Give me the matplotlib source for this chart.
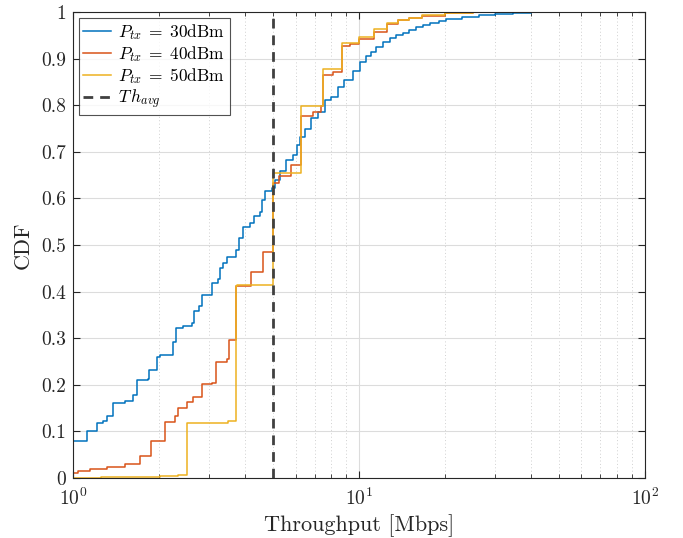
"""
CDF of throughput for three transmit powers
"""
import matplotlib
matplotlib.use("Agg")
import matplotlib.pyplot as plt
import numpy as np

plt.rcParams["font.family"] = "serif"
plt.rcParams["font.serif"] = ["cmr10", "DejaVu Serif"]
plt.rcParams["mathtext.fontset"] = "cm"
plt.rcParams["axes.formatter.use_mathtext"] = True

# step points (throughput in Mbps, CDF value after the step)
x_30 = [1, 1.117, 1.216, 1.276, 1.31, 1.383, 1.52, 1.62, 1.68, 1.83, 1.85, 1.97, 2.01,
        2.24, 2.29, 2.43, 2.6, 2.64, 2.76, 2.82, 3.05, 3.22, 3.26, 3.35, 3.45, 3.73,
        3.81, 3.94, 4.16, 4.31, 4.5, 4.59, 4.69, 4.95, 5.08, 5.3, 5.58, 5.89, 6.06,
        6.22, 6.47, 6.82, 7.19, 7.59, 8.0, 8.44, 8.9, 9.5, 10.06, 10.6, 11.0, 11.5,
        12.1, 12.8, 13.5, 14.3, 15.0, 15.9, 16.8, 17.7, 19.0, 20.2, 23.0, 26.4, 30.0,
        34.6, 40.0, 100]
cdf_30 = [0.08, 0.1, 0.119, 0.123, 0.134, 0.16, 0.166, 0.178, 0.21, 0.213, 0.232, 0.259,
          0.265, 0.292, 0.322, 0.327, 0.333, 0.359, 0.369, 0.393, 0.418, 0.426, 0.45,
          0.462, 0.475, 0.489, 0.514, 0.539, 0.547, 0.562, 0.571, 0.597, 0.616, 0.622,
          0.64, 0.658, 0.682, 0.693, 0.715, 0.732, 0.75, 0.772, 0.786, 0.811, 0.818,
          0.84, 0.854, 0.874, 0.893, 0.905, 0.914, 0.925, 0.936, 0.945, 0.951, 0.956,
          0.962, 0.968, 0.973, 0.977, 0.981, 0.985, 0.99, 0.993, 0.996, 0.998, 1.0, 1.0]

x_40 = [1, 1.04, 1.147, 1.31, 1.52, 1.71, 1.87, 2.1, 2.27, 2.33, 2.5, 2.62, 2.82, 3.05,
        3.16, 3.45, 3.5, 3.73, 4.18, 4.61, 5.0, 5.25, 5.8, 6.25, 6.92, 7.39, 7.47, 8.12,
        8.72, 9.3, 10.0, 11.3, 12.5, 13.7, 15.0, 16.6, 20.0, 25.0, 100]
cdf_40 = [0.011, 0.016, 0.02, 0.023, 0.031, 0.048, 0.08, 0.121, 0.132, 0.15, 0.164, 0.174,
          0.201, 0.204, 0.25, 0.255, 0.296, 0.412, 0.443, 0.486, 0.632, 0.648, 0.672,
          0.776, 0.786, 0.798, 0.865, 0.872, 0.926, 0.932, 0.943, 0.958, 0.974, 0.982,
          0.987, 0.992, 0.997, 1.0, 1.0]

x_50 = [1, 1.25, 2.01, 2.33, 2.5, 3.49, 3.73, 3.76, 5.0, 6.25, 7.47, 8.72, 10.0, 11.3,
        12.5, 13.7, 15.0, 16.6, 20.0, 25.0, 100]
cdf_50 = [0.0, 0.002, 0.004, 0.007, 0.119, 0.122, 0.412, 0.414, 0.655, 0.798, 0.877,
          0.933, 0.947, 0.963, 0.976, 0.983, 0.988, 0.993, 0.997, 1.0, 1.0]

th_avg = 5.0

labels = [r"$P_{tx}\;=\;30\mathrm{dBm}$", r"$P_{tx}\;=\;40\mathrm{dBm}$",
          r"$P_{tx}\;=\;50\mathrm{dBm}$", r"$T\,h_{avg}$"]
colors = ["#0072BD", "#D95319", "#EDB120"]

fig = plt.figure(figsize=(6.83, 5.38), dpi=100)
ax = fig.add_axes([0.107, 0.1115, 0.837, 0.8662])

for xs, ys, c, lab in zip([x_30, x_40, x_50], [cdf_30, cdf_40, cdf_50], colors, labels):
    ax.step(xs, ys, where="post", color=c, lw=1.1, label=lab)

ax.axvline(th_avg, color="#404040", lw=2, linestyle=(0, (3.5, 2.5)), label=labels[3])

ax.set_xscale("log")
ax.set_xlim(1, 100)
ax.set_ylim(0, 1)
ax.set_yticks(np.arange(0, 1.01, 0.1))
ax.set_yticklabels(["0"] + ["%.1f" % v for v in np.arange(0.1, 0.95, 0.1)] + ["1"])

ax.grid(True, which="major", color="#dcdcdc", lw=0.8)
ax.grid(True, which="minor", axis="x", color="#d0d0d0", lw=0.7, linestyle=(0, (1, 2.5)))
ax.set_axisbelow(True)

ax.tick_params(which="both", direction="in", top=True, right=True, labelsize=14,
               colors="#262626")
ax.tick_params(which="major", length=5)
ax.tick_params(which="minor", length=3)
ax.tick_params(axis="x", which="both", pad=7)
ax.tick_params(axis="y", which="both", pad=5)
for s in ax.spines.values():
    s.set_color("#262626")
    s.set_linewidth(0.8)

ax.set_xlabel("Throughput [Mbps]", fontsize=16, color="#262626", labelpad=4)
ax.set_ylabel("CDF", fontsize=16, color="#262626", labelpad=6)

leg = ax.legend(loc="upper left", fontsize=12.5, frameon=True, fancybox=False,
                edgecolor="#262626", borderpad=0.25, labelspacing=0.1,
                handlelength=1.6, handletextpad=0.4, borderaxespad=0.35)
leg.get_frame().set_linewidth(0.8)

fig.savefig("out.png", dpi=100)
